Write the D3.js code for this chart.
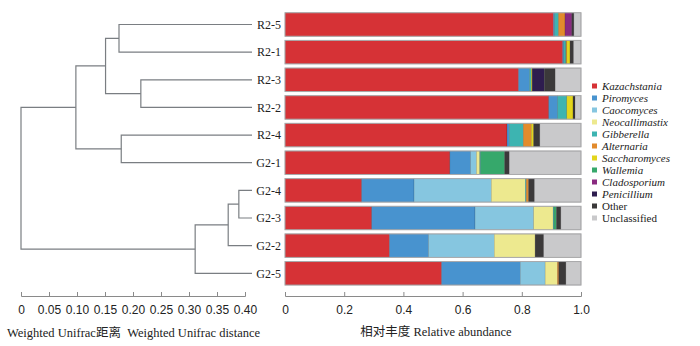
<!DOCTYPE html>
<html>
<head>
<meta charset="utf-8">
<script src="https://cdn.jsdelivr.net/npm/d3@7"></script>
<style>
  body { margin: 0; background: #fff; }
  svg { font-family: "Liberation Serif", "Noto Sans CJK SC", serif; }
  .axis path, .axis line { stroke: #8a8a8a; }
  .axis text { font-size: 12px; fill: #222; }
</style>
</head>
<body>
<div id="chart"></div>
<script>
// samples, top to bottom
var samples = ["R2-5", "R2-1", "R2-3", "R2-2", "R2-4", "G2-1", "G2-4", "G2-3", "G2-2", "G2-5"];

var genera = ["Kazachstania", "Piromyces", "Caocomyces", "Neocallimastix", "Gibberella",
  "Alternaria", "Saccharomyces", "Wallemia", "Cladosporium", "Penicillium", "Other", "Unclassified"];
var colors = ["#d63236", "#4893cf", "#86c6e0", "#ede98f", "#3db4b1",
  "#e28b2c", "#e3d51c", "#36a86b", "#8a2a80", "#2e1d4f", "#3b393a", "#c9c9cb"];

// relative abundance, one array per sample (same order as genera)
var abundR25 = [0.907, 0.004, 0, 0, 0.013, 0.022, 0, 0, 0.023, 0, 0.007, 0.024];
var abundR21 = [0.938, 0.004, 0, 0, 0.007, 0.003, 0.011, 0, 0, 0, 0.012, 0.025];
var abundR23 = [0.789, 0.037, 0, 0, 0.006, 0, 0.003, 0, 0, 0.041, 0.037, 0.087];
var abundR22 = [0.891, 0.030, 0, 0, 0.031, 0, 0.021, 0, 0, 0, 0.007, 0.020];
var abundR24 = [0.750, 0.008, 0, 0, 0.047, 0.027, 0.008, 0, 0, 0, 0.021, 0.139];
var abundG21 = [0.557, 0.070, 0.020, 0.011, 0.003, 0, 0, 0.081, 0, 0, 0.016, 0.242];
var abundG24 = [0.259, 0.177, 0.261, 0.115, 0.003, 0.008, 0, 0, 0, 0, 0.020, 0.157];
var abundG23 = [0.293, 0.349, 0.198, 0.066, 0.003, 0, 0, 0.008, 0, 0, 0.015, 0.068];
var abundG22 = [0.353, 0.132, 0.222, 0.138, 0, 0, 0, 0, 0, 0, 0.029, 0.126];
var abundG25 = [0.529, 0.266, 0.084, 0.041, 0, 0.005, 0, 0, 0, 0, 0.024, 0.051];
var abundance = [abundR25, abundR21, abundR23, abundR22, abundR24, abundG21, abundG24, abundG23, abundG22, abundG25];

// dendrogram: [childA, childB, merge distance, node name]
var leafDist = 0.4125;
var merges = [
  ["R2-5", "R2-1", 0.175, "n1"],
  ["R2-3", "R2-2", 0.214, "n2"],
  ["n1", "n2", 0.151, "n3"],
  ["R2-4", "G2-1", 0.179, "n4"],
  ["n3", "n4", 0.098, "n5"],
  ["G2-4", "G2-3", 0.389, "n6"],
  ["n6", "G2-2", 0.370, "n7"],
  ["n7", "G2-5", 0.311, "n8"],
  ["n5", "n8", 0.0, "root"]
];

var distTicks = [0, 0.05, 0.10, 0.15, 0.20, 0.25, 0.30, 0.35, 0.40];
var abundTicks = [0, 0.2, 0.4, 0.6, 0.8, 1.0];

var svg = d3.select("#chart").append("svg").attr("width", 700).attr("height", 346);

var y = d3.scalePoint().domain(samples).range([24.5, 273.3]);
var barH = 23.5;
var xd = d3.scaleLinear().domain([0, 0.4]).range([21, 245]);
var xa = d3.scaleLinear().domain([0, 1]).range([285, 581]);

// ---- dendrogram
var pos = {};
samples.forEach(function(s) { pos[s] = {x: xd(leafDist), y: y(s)}; });
var dg = svg.append("g").attr("fill", "none").attr("stroke", "#7a7e82").attr("stroke-width", 1.2);
merges.forEach(function(m) {
  var a = pos[m[0]], b = pos[m[1]], nx = xd(m[2]);
  dg.append("path").attr("d",
    "M" + a.x + "," + a.y + "H" + nx + "V" + b.y + "H" + b.x);
  pos[m[3]] = {x: nx, y: (a.y + b.y) / 2};
});

svg.append("g").selectAll("text").data(samples).enter().append("text")
  .attr("x", 281).attr("y", function(d) { return y(d); })
  .attr("dy", "0.35em").attr("text-anchor", "end")
  .style("font-size", "12px").attr("fill", "#222")
  .text(function(d) { return d; });

// ---- stacked bars
var rows = svg.append("g").selectAll("g").data(samples).enter().append("g");
rows.each(function(s, i) {
  var g = d3.select(this), cum = 0;
  var segs = abundance[i].map(function(v, k) {
    var seg = {k: k, x0: cum, x1: cum + v}; cum += v; return seg;
  }).filter(function(d) { return d.x1 > d.x0; });
  // last segment (Unclassified) fills to 1.0
  segs[segs.length - 1].x1 = 1;
  g.selectAll("rect").data(segs).enter().append("rect")
    .attr("x", function(d) { return xa(d.x0); })
    .attr("width", function(d) { return xa(d.x1) - xa(d.x0); })
    .attr("y", y(s) - barH / 2).attr("height", barH)
    .attr("fill", function(d) { return colors[d.k]; })
    .attr("stroke", "rgba(0,0,0,0.25)").attr("stroke-width", 0.5);
  g.append("rect")
    .attr("x", xa(0)).attr("width", xa(1) - xa(0))
    .attr("y", y(s) - barH / 2).attr("height", barH)
    .attr("fill", "none").attr("stroke", "#a9a9ab").attr("stroke-width", 1);
});

// ---- axes
svg.append("g").attr("class", "axis")
  .attr("transform", "translate(0,296)")
  .call(d3.axisBottom(xd).tickValues(distTicks).tickSize(-4).tickPadding(9)
    .tickFormat(function(d) { return d === 0 ? "0" : d.toFixed(2); }));

svg.append("g").attr("class", "axis")
  .attr("transform", "translate(0,296)")
  .call(d3.axisBottom(xa).tickValues(abundTicks).tickSize(-4).tickPadding(9)
    .tickFormat(function(d) { return d === 0 ? "0" : d.toFixed(1); }));

svg.append("text").attr("x", 7).attr("y", 333).attr("dy", "0.35em")
  .style("font-size", "12.5px").style("white-space", "pre").attr("fill", "#222")
  .text("Weighted Unifrac距离  Weighted Unifrac distance");

svg.append("text").attr("x", 436).attr("y", 332).attr("dy", "0.35em")
  .attr("text-anchor", "middle").style("font-size", "12.5px").attr("fill", "#222")
  .text("相对丰度 Relative abundance");

// ---- legend
var leg = svg.append("g").selectAll("g").data(genera).enter().append("g")
  .attr("transform", function(d, i) { return "translate(592," + (86 + i * 12) + ")"; });
leg.append("rect").attr("x", 0).attr("y", -2.5).attr("width", 5).attr("height", 5)
  .attr("fill", function(d, i) { return colors[i]; });
leg.append("text").attr("x", 10).attr("dy", "0.35em")
  .style("font-size", "11px").attr("fill", "#222")
  .style("font-style", function(d, i) { return i < 10 ? "italic" : "normal"; })
  .text(function(d) { return d; });
</script>
</body>
</html>
